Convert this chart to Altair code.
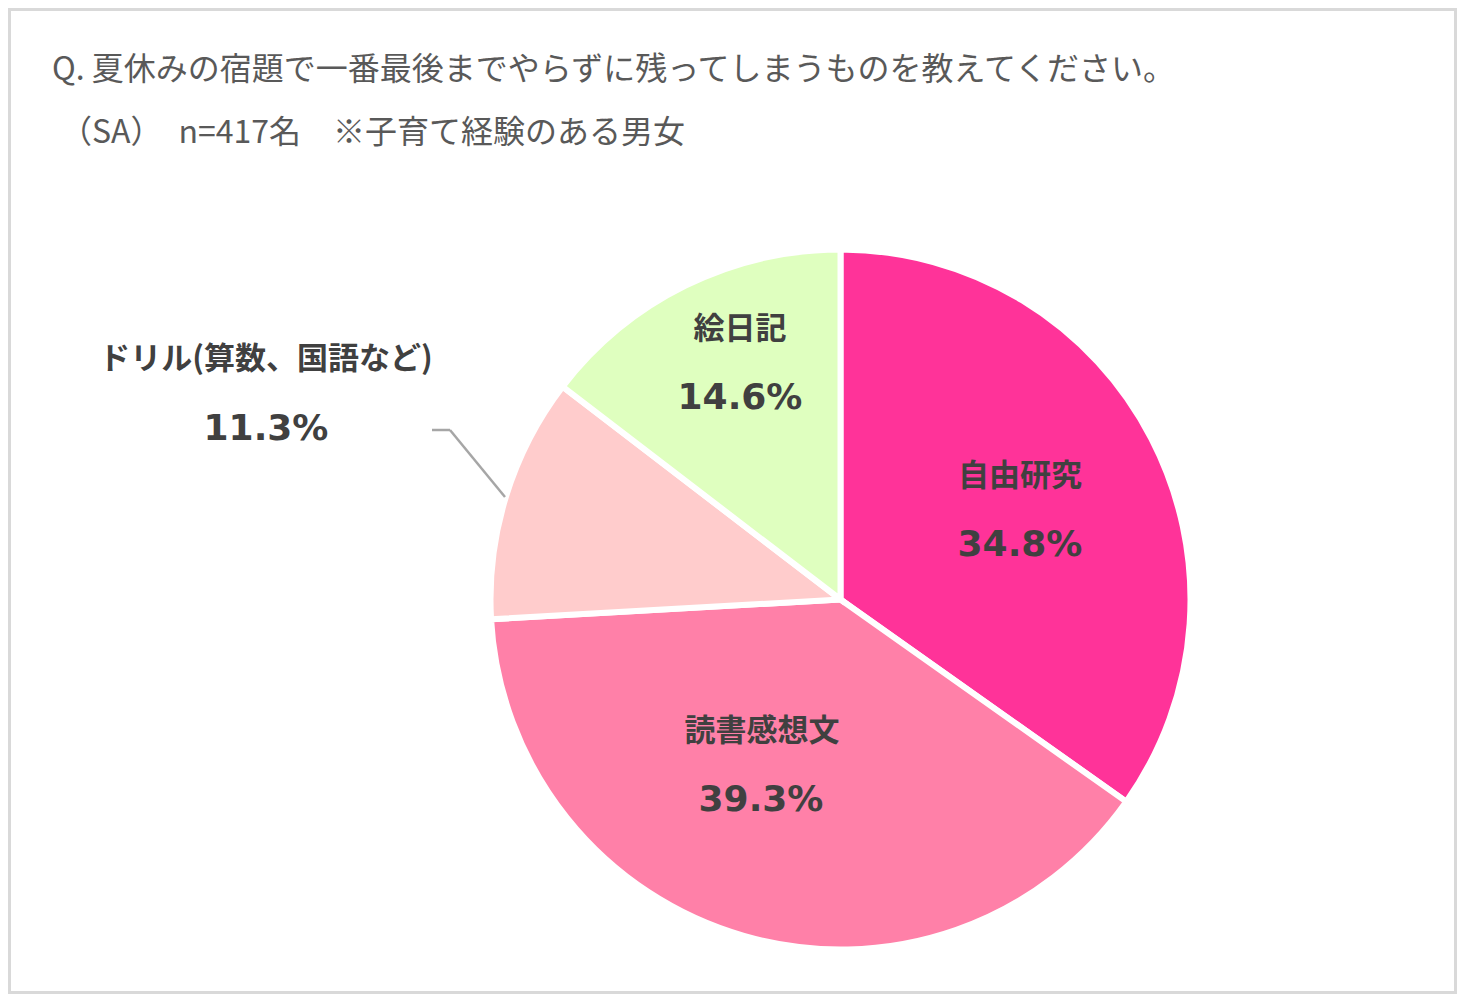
import altair as alt
import pandas as pd

categories = ["自由研究", "読書感想文", "ドリル(算数、国語など)", "絵日記"]
values = [34.8, 39.3, 11.3, 14.6]
colors = ["#FF3399", "#FF80A8", "#FFCCCC", "#DFFFBF"]
title_text = "Q. 夏休みの宿題で一番最後までやらずに残ってしまうものを教えてください。"
subtitle_text = "（SA）　n=417名　※子育て経験のある男女"

df = pd.DataFrame({"cat": categories, "pct": values, "order": list(range(len(categories)))})

W, H = 1449, 986
CX, CY = 832.5, 591.5

base = alt.Chart(df)

pie = base.mark_arc(outerRadius=350, stroke="white", strokeWidth=6).encode(
    theta=alt.Theta("pct:Q", stack=True),
    order=alt.Order("order:Q"),
    color=alt.Color("cat:N", scale=alt.Scale(domain=categories, range=colors), legend=None),
    x=alt.value(CX),
    y=alt.value(CY),
)

# label anchor positions (name, percent) per category
label_pos = {
    "自由研究": ((1012, 469), (1012, 537)),
    "読書感想文": ((754, 724), (753, 792)),
    "ドリル(算数、国語など)": ((258, 352), (258, 421)),
    "絵日記": ((732, 322), (732, 390)),
}

layers = [pie]
for c in categories:
    (nx, ny), (px, py) = label_pos[c]
    sub = base.transform_filter(alt.datum.cat == c)
    layers.append(
        sub.mark_text(font="Noto Sans CJK JP", fontWeight="bold", fontSize=31,
                      color="#404040", align="center", baseline="middle").encode(
            text="cat:N", x=alt.value(nx), y=alt.value(ny))
    )
    layers.append(
        sub.transform_calculate(lab="format(datum.pct, '.1f') + '%'")
        .mark_text(font="DejaVu Sans", fontWeight="bold", fontSize=36,
                   color="#404040", align="center", baseline="middle").encode(
            text="lab:N", x=alt.value(px), y=alt.value(py))
    )

one = alt.Chart(pd.DataFrame({"t": [title_text], "s": [subtitle_text]}))

title = one.mark_text(font="Noto Sans CJK JP", fontSize=32, color="#595959",
                      align="left", baseline="middle").encode(
    text="t:N", x=alt.value(44), y=alt.value(62))
subtitle = one.mark_text(font="Noto Sans CJK JP", fontSize=32, color="#595959",
                         align="left", baseline="middle").encode(
    text="s:N", x=alt.value(52), y=alt.value(125))

leader1 = one.mark_rule(color="#A6A6A6", strokeWidth=2.5).encode(
    x=alt.value(424), x2=alt.value(442), y=alt.value(422), y2=alt.value(422))
leader2 = one.mark_rule(color="#A6A6A6", strokeWidth=2.5).encode(
    x=alt.value(442), x2=alt.value(497), y=alt.value(422), y2=alt.value(489))

border = one.mark_rect(fill="white", fillOpacity=0, stroke="#D9D9D9", strokeWidth=3).encode(
    x=alt.value(1.5), x2=alt.value(W - 1.5), y=alt.value(1.5), y2=alt.value(H - 1.5))

chart = alt.layer(border, *layers, title, subtitle, leader1, leader2).properties(
    width=W, height=H, padding=0, autosize=alt.AutoSizeParams(type="none"),
    background="white",
).configure_view(stroke=None)

chart.save("out.html", embed_options={"renderer": "svg", "actions": False})
